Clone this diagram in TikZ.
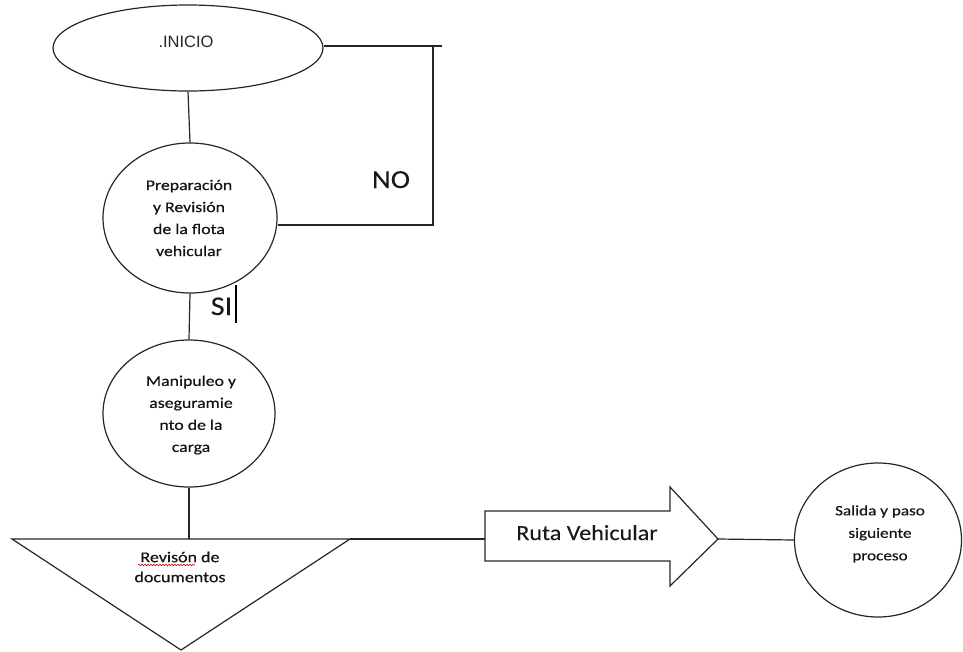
\documentclass[tikz,border=0pt]{standalone}
\usepackage{fontspec}
\setmainfont{Carlito}
\newfontfamily\widefont[FakeStretch=1.2,FakeBold=0.4]{Carlito}
\newfontfamily\labfont[FakeStretch=1.12,FakeBold=0.2]{Carlito}
\newfontfamily\arialfont{Liberation Sans}
\usetikzlibrary{shapes.geometric,decorations.pathmorphing}

\begin{document}
\begin{tikzpicture}[x=1pt,y=-1pt,
  line/.style={draw=black!85, line width=1.2pt},
  oval/.style={ellipse, draw=black!85, line width=1.2pt, inner sep=0pt},
  body/.style={font=\widefont\fontsize{14.8}{22}\selectfont, align=center, text=black!92},
]
\useasboundingbox (0,0) rectangle (963,651);

% start oval
\node[oval, minimum width=270pt, minimum height=86pt] (inicio) at (188,48) {};
\node[font=\arialfont\fontsize{16.5}{20}\selectfont, anchor=base, text=black!85] (inicioTxt) at (186,47.5) {.INICIO};

% process circles
\node[oval, minimum width=174pt, minimum height=150pt] (prep) at (190,218) {};
\node[body] (prepTxt) at (189,218) {Preparación\\y Revisión\\de la flota\\vehicular};

\node[oval, minimum width=172pt, minimum height=147pt] (manip) at (189,413.5) {};
\node[body] (manipTxt) at (191,415) {Manipuleo y\\aseguramie\\nto de la\\carga};

\node[oval, minimum width=167pt, minimum height=154pt] (salida) at (878,540) {};
\node[body, font=\widefont\fontsize{14.3}{22.5}\selectfont] (salidaTxt) at (880,534) {Salida y paso\\siguiente\\proceso};

% document check (inverted triangle)
\coordinate (triL) at (12,539);
\coordinate (triR) at (350,539);
\coordinate (triB) at (181,650);
\coordinate (triTop) at (189,539);
\draw[line, line join=miter] (triL) -- (triR) -- (triB) -- cycle;
\node[body, font=\widefont\fontsize{15}{20}\selectfont] (revTxt) at (180,567) {Revisón de\\documentos};
\coordinate (sqA) at (138,565);
\coordinate (sqB) at (195,565);
\draw[red!80!black, line width=0.6pt, decorate,
      decoration={snake, amplitude=0.8pt, segment length=3pt}] (sqA) -- (sqB);

% block arrow
\coordinate (arTail) at (485,539);
\coordinate (arTip) at (718,539);
\draw[line, line join=miter] (485,511) -- (670,511) -- (670,487) -- (arTip)
  -- (670,586) -- (670,561) -- (485,561) -- cycle;
\node[font=\labfont\fontsize{21.5}{28}\selectfont, anchor=base, text=black!90] (ruta) at (587,540) {Ruta Vehicular};

% connectors
\coordinate (loopEnd) at (442,46);
\coordinate (loopTop) at (433,46);
\coordinate (loopBot) at (433,225);
\draw[line] (inicio.south) -- (prep.north);
\draw[line] (inicio.east |- loopEnd) -- (loopEnd);
\draw[line] (loopTop) -- (loopBot) -- (loopBot -| prep.east);
\draw[line] (prep.south) -- (manip.north);
\draw[line] (manip.south) -- (triTop);
\draw[line] (triR) -- (arTail);
\draw[line] (arTip) -- (salida.west);

% branch labels
\node[font=\labfont\fontsize{26}{30}\selectfont, anchor=base, text=black!90] (no) at (391,188) {NO};
\node[font=\labfont\fontsize{27}{30}\selectfont, anchor=base, text=black!90] (si) at (221.5,315) {SI};
\coordinate (barTop) at (236,285);
\coordinate (barBot) at (236,323);
\draw[black, line width=2.4pt] (barTop) -- (barBot);
\end{tikzpicture}
\end{document}
